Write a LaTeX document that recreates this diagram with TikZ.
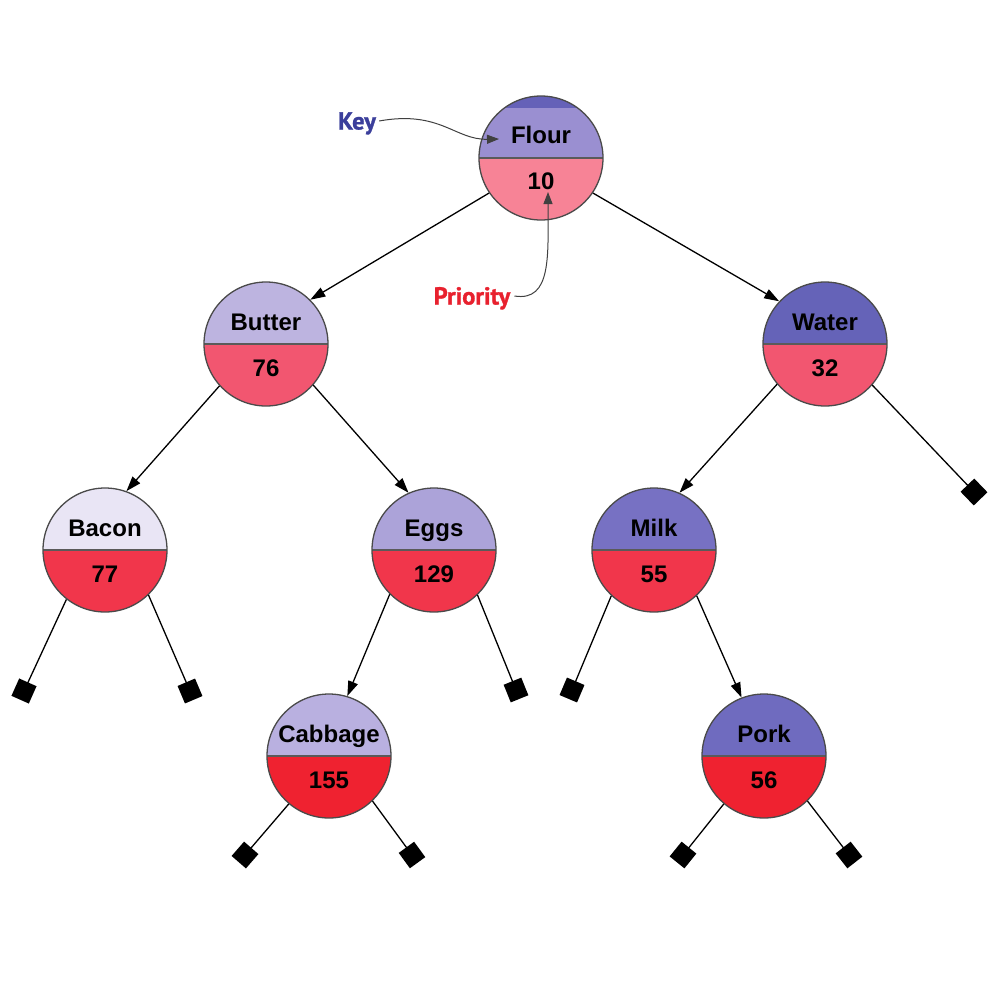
\documentclass[tikz,border=0pt]{standalone}
\usepackage{fontspec}
\setmainfont{Liberation Sans}
\newfontfamily\annfont{PT Sans}[BoldFeatures={FakeBold=1.2}]
\usetikzlibrary{arrows.meta}
\definecolor{kFlour}{HTML}{9A8FD1}
\definecolor{kFlourTop}{HTML}{6561B8}
\definecolor{pFlour}{HTML}{F78396}
\definecolor{kButter}{HTML}{BDB4E0}
\definecolor{pButter}{HTML}{F25670}
\definecolor{kWater}{HTML}{6563B8}
\definecolor{pWater}{HTML}{F25670}
\definecolor{kBacon}{HTML}{E9E5F5}
\definecolor{pBacon}{HTML}{F1364B}
\definecolor{kEggs}{HTML}{ACA3D9}
\definecolor{pEggs}{HTML}{F1364B}
\definecolor{kMilk}{HTML}{7771C3}
\definecolor{pMilk}{HTML}{F1364B}
\definecolor{kCabbage}{HTML}{B9B0E0}
\definecolor{pCabbage}{HTML}{EF2230}
\definecolor{kPork}{HTML}{6F6BBF}
\definecolor{pPork}{HTML}{EF2230}
\definecolor{keyblue}{HTML}{3B3F9B}
\definecolor{prored}{HTML}{E8212E}
\definecolor{rim}{HTML}{4A4A4A}
\definecolor{divline}{HTML}{5A5A5A}
\begin{document}
\begin{tikzpicture}[x=1pt,y=-1pt,
  tn/.style n args={3}{circle, minimum size=124pt, inner sep=0pt, draw=rim, line width=1.3pt,
    path picture={
      \fill[#1] (path picture bounding box.north west) rectangle (path picture bounding box.east);
      \fill[#3] (path picture bounding box.north west) rectangle ([yshift=50pt]path picture bounding box.east);
      \fill[#2] (path picture bounding box.south west) rectangle (path picture bounding box.east);
      \draw[divline, line width=2pt] (path picture bounding box.west) -- (path picture bounding box.east);
    }},
  lbl/.style={font=\bfseries\fontsize{24}{28}\selectfont, inner sep=0pt, text height=17pt, text depth=0pt, anchor=center},
  leaf/.style={rectangle, fill=black, minimum size=19pt, inner sep=0pt},
  edge/.style={black, line width=1.3pt, -{Triangle[length=15pt,width=10pt]}},
  leafedge/.style={black, line width=1.3pt},
  ann/.style={draw=black!75, line width=1pt, -{Triangle[length=12pt,width=9pt]}},
  annlbl/.style={font=\annfont\bfseries\fontsize{24.5}{28}\selectfont, inner sep=0pt, text height=17pt, text depth=0pt, anchor=center}
]
\useasboundingbox (0,0) rectangle (998,994);

% tree nodes
\node[tn={kFlour}{pFlour}{kFlourTop}] (flour) at (541,158) {};
\node[tn={kButter}{pButter}{kButter}] (butter) at (266,344) {};
\node[tn={kWater}{pWater}{kWater}] (water) at (825,344) {};
\node[tn={kBacon}{pBacon}{kBacon}] (bacon) at (105,550) {};
\node[tn={kEggs}{pEggs}{kEggs}] (eggs) at (434,550) {};
\node[tn={kMilk}{pMilk}{kMilk}] (milk) at (654,550) {};
\node[tn={kCabbage}{pCabbage}{kCabbage}] (cabbage) at (329,756) {};
\node[tn={kPork}{pPork}{kPork}] (pork) at (764,756) {};

% labels
\node[lbl] (flourk) at (541,135) {Flour};
\node[lbl] (flourp) at (541,181) {10};
\node[lbl] (butterk) at (266,322) {Butter};
\node[lbl] (butterp) at (266,368) {76};
\node[lbl] (waterk) at (825,322) {Water};
\node[lbl] (waterp) at (825,368) {32};
\node[lbl] (bacongk) at (105,528) {Bacon};
\node[lbl] (baconp) at (105,574) {77};
\node[lbl] (eggsk) at (434,528) {Eggs};
\node[lbl] (eggsp) at (434,574) {129};
\node[lbl] (milkk) at (654,528) {Milk};
\node[lbl] (milkp) at (654,574) {55};
\node[lbl] (cabbagek) at (329,734) {Cabbage};
\node[lbl] (cabbagep) at (329,780) {155};
\node[lbl] (porkk) at (764,734) {Pork};
\node[lbl] (porkp) at (764,780) {56};

% leaves
\node[leaf, rotate=66] (l1) at (24,691) {};
\node[leaf, rotate=23] (l2) at (190,691) {};
\node[leaf, rotate=22] (l3) at (516,690) {};
\node[leaf, rotate=-23] (l4) at (572,690) {};
\node[leaf, rotate=44] (l5) at (974,492) {};
\node[leaf, rotate=-41] (l6) at (245,855) {};
\node[leaf, rotate=36] (l7) at (412,855) {};
\node[leaf, rotate=-39] (l8) at (683,855) {};
\node[leaf, rotate=38] (l9) at (849,855) {};

% edges
\draw[edge] (flour.214) -- (butter.45);
\draw[edge] (flour.326) -- (water.137);
\draw[edge] (butter.222) -- (bacon.70);
\draw[edge] (butter.319) -- (eggs.114);
\draw[edge] (water.220) -- (milk.66);
\draw[edge] (eggs.225) -- (cabbage.73);
\draw[edge] (milk.313) -- (pork.111);

\draw[leafedge] (bacon.232) -- (l1.center);
\draw[leafedge] (bacon.314) -- (l2.center);
\draw[leafedge] (eggs.314) -- (l3.center);
\draw[leafedge] (milk.227) -- (l4.center);
\draw[leafedge] (water.319) -- (l5.center);
\draw[leafedge] (cabbage.230) -- (l6.center);
\draw[leafedge] (cabbage.314) -- (l7.center);
\draw[leafedge] (pork.230) -- (l8.center);
\draw[leafedge] (pork.314) -- (l9.center);

% annotations
\node[annlbl, text=keyblue] (keylbl) at (357,121) {Key};
\node[annlbl, text=prored] (priolbl) at (472,296) {Priority};
\coordinate (keytip) at (499,139);
\coordinate (priotip) at (548,192);
\draw[ann] ([xshift=3pt]keylbl.east) .. controls (440,110) and (455,140) .. (keytip);
\draw[ann] ([xshift=4pt]priolbl.east) .. controls (552,302) and (548,255) .. (priotip);
\end{tikzpicture}
\end{document}
